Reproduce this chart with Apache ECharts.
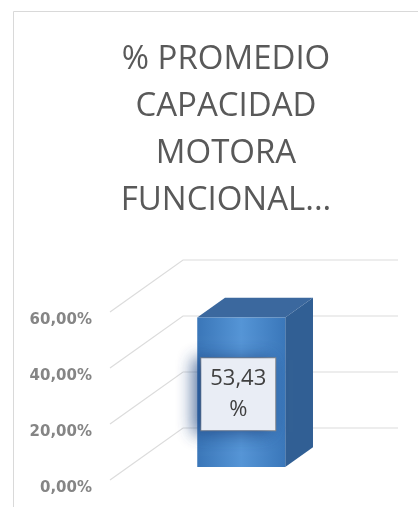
<!DOCTYPE html>
<html>
<head>
<meta charset="utf-8">
<script src="https://cdn.jsdelivr.net/npm/echarts@6/dist/echarts.min.js"></script>
<style>html,body{margin:0;padding:0;background:#fff}#c{width:418px;height:507px}</style>
</head>
<body>
<div id="c"></div>
<script>
// ---- data ----
var titleLines = ['% PROMEDIO', 'CAPACIDAD', 'MOTORA', 'FUNCIONAL...'];
var categories = ['Capacidad motora funcional'];
var values = [53.43];
var tickValues = [0, 20, 40, 60];

var chart = echarts.init(document.getElementById('c'));
var DX = 73, DY = -52;       // floor depth
var BAR_F = 0.25, BAR_B = 0.63; // bar depth span (fraction of floor depth)
var BAR_W = 88;
var LINE_RIGHT = 398;

function fmt(v) { return v.toFixed(2).replace('.', ',') + '%'; }

chart.setOption({
  animation: false,
  graphic: [{
    type: 'rect', silent: true, z: -10,
    shape: { x: 13.5, y: 11.5, width: 440, height: 520 },
    style: { fill: '#fff', stroke: '#d9d9d9', lineWidth: 1 }
  }],
  title: {
    text: titleLines.join('\n'),
    left: 221, top: 31, textAlign: 'center',
    textStyle: { fontFamily: 'Open Sans', fontSize: 33, fontWeight: 'normal', color: '#595959', lineHeight: 47 }
  },
  grid: { left: 110, right: 82, top: 312, bottom: 27 },
  xAxis: { type: 'category', data: categories, show: false },
  yAxis: {
    type: 'value', min: 0, max: 60, interval: 20,
    axisLine: { show: false }, axisTick: { show: false }, splitLine: { show: false },
    axisLabel: {
      formatter: function (v) { return fmt(v); },
      margin: 18, verticalAlign: 'top', lineHeight: 16,
      fontFamily: 'DejaVu Sans', fontSize: 15, fontWeight: 'bold', color: '#858585'
    }
  },
  series: [{
    type: 'custom', z: 1, silent: true,
    data: tickValues.map(function (v) { return [0, v]; }),
    renderItem: function (params, api) {
      var y = api.coord([0, api.value(1)])[1];
      var x0 = params.coordSys.x;
      return {
        type: 'polyline',
        shape: { points: [[x0, y], [x0 + DX, y + DY], [LINE_RIGHT, y + DY]] },
        style: { stroke: '#dcdcdc', lineWidth: 1.2, fill: null }
      };
    }
  }, {
    type: 'custom', z: 5, silent: true,
    data: values.map(function (v, i) { return [i, v]; }),
    renderItem: function (params, api) {
      var base = api.coord([api.value(0), 0]);
      var top = api.coord([api.value(0), api.value(1)]);
      var fx = base[0] + BAR_F * DX, fdy = BAR_F * DY;
      var L = fx - BAR_W / 2, R = fx + BAR_W / 2;
      var yb = base[1] + fdy, yt = top[1] + fdy;
      var ddx = (BAR_B - BAR_F) * DX, ddy = (BAR_B - BAR_F) * DY;
      var v = api.value(1);
      return {
        type: 'group',
        children: [{
          type: 'polygon',
          shape: { points: [[L, yt], [L + ddx, yt + ddy], [R + ddx, yt + ddy], [R, yt]] },
          style: { fill: '#3b689e' }
        }, {
          type: 'polygon',
          shape: { points: [[R, yt], [R + ddx, yt + ddy], [R + ddx, yb + ddy], [R, yb]] },
          style: { fill: '#315f94' }
        }, {
          type: 'rect',
          shape: { x: L, y: yt, width: BAR_W, height: yb - yt },
          style: {
            fill: new echarts.graphic.LinearGradient(0, 0, 1, 0, [
              { offset: 0, color: '#3a76b8' },
              { offset: 0.5, color: '#5595d6' },
              { offset: 1, color: '#3a77ba' }
            ])
          }
        }, {
          type: 'text',
          x: fx - 3, y: (yt + yb) / 2 + 2,
          style: {
            text: fmt(v).replace('%', '\n%'),
            align: 'center', verticalAlign: 'middle',
            fontFamily: 'Open Sans', fontSize: 22, lineHeight: 31, fill: '#404040',
            backgroundColor: '#e9edf5', borderColor: '#8a8a8a', borderWidth: 1,
            padding: [6, 3, 4, 3], width: 68,
            shadowColor: 'rgba(30,70,130,0.8)', shadowBlur: 16, shadowOffsetX: -6, shadowOffsetY: 2
          }
        }]
      };
    }
  }]
});
</script>
</body>
</html>
